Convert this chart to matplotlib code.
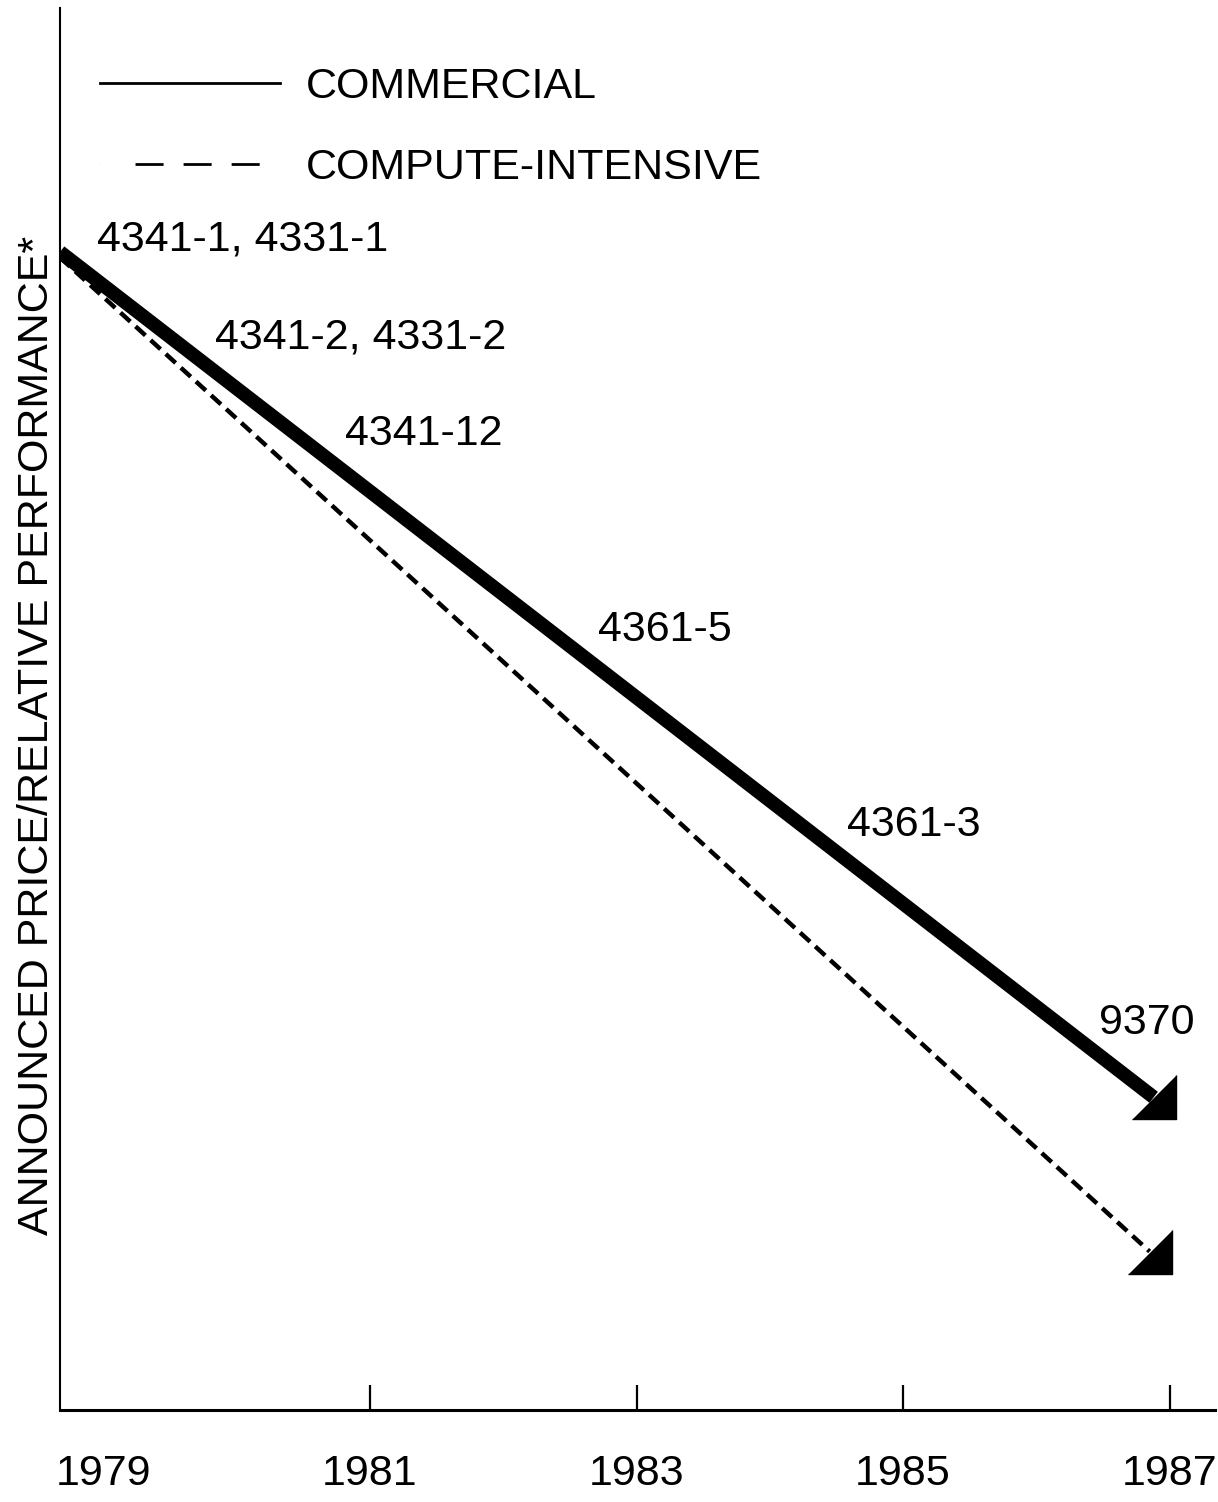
import matplotlib
matplotlib.use('Agg')
import matplotlib.pyplot as plt
from matplotlib.lines import Line2D

plt.rcParams['font.family'] = ['Liberation Sans', 'DejaVu Sans']

# Данные (относительные единицы, ось Y без шкалы)
years = [1978.675, 1986.88]
commercial = [82.6, 22.3]
years_ci = [1978.675, 1986.85]
compute_intensive = [82.2, 11.3]

# Подписи моделей вдоль коммерческой линии
model_labels = ['4341-1, 4331-1', '4341-2, 4331-2', '4341-12', '4361-5', '4361-3', '9370']
label_x = [1978.95, 1979.84, 1980.81, 1982.71, 1984.58, 1986.47]
label_y = [83.5, 76.5, 69.6, 55.6, 41.7, 27.6]

tick_years = [1979, 1981, 1983, 1985, 1987]

fig = plt.figure(figsize=(12.18, 15.02), dpi=100)
ax = fig.add_axes([0.0493, 0.0613, 0.9482, 0.9334])

# наконечник стрелки - прямоугольный треугольник
arrow = [(-1, -1), (1, -1), (1, 1)]

ax.plot(years, commercial, color='black', lw=10, solid_capstyle='butt',
        marker=arrow, markevery=[-1], markersize=32)
ax.plot(years_ci, compute_intensive, color='black', lw=3.2, linestyle=(0, (3, 1.6)),
        marker=arrow, markevery=[-1], markersize=32)

for lab, x, y in zip(model_labels, label_x, label_y):
    ax.text(x, y, lab, fontsize=31, ha='left', va='center')

ax.set_xlim(1978.675, 1987.34)
ax.set_ylim(0, 100)
ax.set_xticks(tick_years)
ax.set_xticklabels([str(y) for y in tick_years], fontsize=31)
ax.tick_params(axis='x', direction='in', length=18, width=1.6, pad=32)
ax.xaxis.get_major_ticks()[0].tick1line.set_visible(False)
ax.set_yticks([])
ax.set_ylabel('ANNOUNCED PRICE/RELATIVE PERFORMANCE*', fontsize=31)
ax.yaxis.set_label_coords(-0.003, 0.481)

for s in ['top', 'right']:
    ax.spines[s].set_visible(False)
ax.spines['left'].set_linewidth(1.5)
ax.spines['bottom'].set_linewidth(2.2)

# легенда: пунктир из трёх штрихов с отступом слева, как в оригинале
handles = [Line2D([], [], color='black', lw=2),
           Line2D([], [], color='black', lw=2,
                  linestyle=(0, (0.01, 12.6, 10.1, 7.2, 10.1, 7.2, 10.1, 30)))]
ax.legend(handles, ['COMMERCIAL', 'COMPUTE-INTENSIVE'], loc='upper left',
          bbox_to_anchor=(0.0346, 0.958), frameon=False, fontsize=31,
          handlelength=4.19, handletextpad=0.58, labelspacing=0.95,
          borderaxespad=0, borderpad=0)

fig.savefig('out.png', dpi=100)
